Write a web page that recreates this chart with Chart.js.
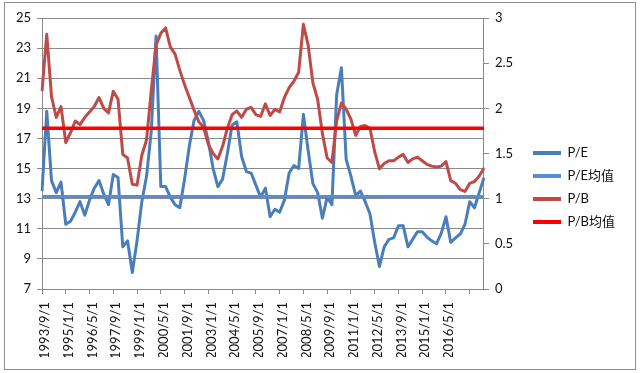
<!DOCTYPE html>
<html>
<head>
<meta charset="utf-8">
<script src="https://cdn.jsdelivr.net/npm/chart.js@4/dist/chart.umd.min.js"></script>
<style>
  html, body { margin: 0; padding: 0; background: #fff; }
  #frame { position: absolute; left: 4px; top: 2px; width: 630px; height: 366px; border: 1px solid #8c8c8c; }
  canvas { display: block; }
</style>
</head>
<body>
<div id="frame"><canvas id="chart" width="630" height="366"></canvas></div>
<script>
// tick labels shown on the x axis (one every 5 points)
const tickLabels = [
  '1993/9/1', '1995/1/1', '1996/5/1', '1997/9/1', '1999/1/1', '2000/5/1',
  '2001/9/1', '2003/1/1', '2004/5/1', '2005/9/1', '2007/1/1', '2008/5/1',
  '2009/9/1', '2011/1/1', '2012/5/1', '2013/9/1', '2015/1/1', '2016/5/1'
];
const labelEvery = 5;

// P/E (left axis)
const peValues = [
  13.5, 18.8, 14.2, 13.4, 14.1, 11.3, 11.5, 12.1, 12.8, 11.9,
  12.9, 13.7, 14.2, 13.3, 12.6, 14.6, 14.4, 9.8, 10.2, 8.1,
  10.2, 12.8, 14.5, 17.5, 23.8, 13.8, 13.8, 13.1, 12.6, 12.4,
  14.3, 16.5, 18.2, 18.8, 18.2, 16.8, 15.0, 13.8, 14.3, 16.0,
  17.9, 18.1, 15.8, 14.8, 14.7, 13.9, 13.1, 13.7, 11.8, 12.3,
  12.1, 12.9, 14.7, 15.2, 15.0, 18.6, 16.2, 14.0, 13.4, 11.7,
  13.1, 12.6, 19.9, 21.7, 15.6, 14.5, 13.2, 13.5, 12.8, 12.0,
  10.1, 8.5, 9.8, 10.3, 10.4, 11.2, 11.2, 9.8, 10.3, 10.8,
  10.8, 10.45, 10.2, 10.0, 10.7, 11.8, 10.1, 10.4, 10.65, 11.3,
  12.8, 12.4, 13.4, 14.4
];

// P/B (right axis)
const pbValues = [
  2.19, 2.82, 2.13, 1.90, 2.02, 1.62, 1.73, 1.86, 1.82, 1.90,
  1.96, 2.02, 2.12, 2.00, 1.95, 2.19, 2.10, 1.49, 1.45, 1.16,
  1.15, 1.48, 1.65, 2.20, 2.70, 2.83, 2.89, 2.68, 2.60, 2.42,
  2.26, 2.12, 1.98, 1.85, 1.79, 1.60, 1.50, 1.44, 1.58, 1.78,
  1.93, 1.97, 1.90, 1.99, 2.01, 1.93, 1.91, 2.05, 1.92, 1.99,
  1.96, 2.12, 2.23, 2.30, 2.40, 2.93, 2.70, 2.28, 2.10, 1.72,
  1.45, 1.40, 1.86, 2.06, 1.99, 1.88, 1.70, 1.80, 1.81, 1.78,
  1.52, 1.33, 1.39, 1.42, 1.42, 1.46, 1.49, 1.40, 1.44, 1.46,
  1.42, 1.38, 1.36, 1.35, 1.36, 1.41, 1.20, 1.17, 1.10, 1.08,
  1.17, 1.19, 1.25, 1.34
];

const peMean = 13.15;
const pbMean = 1.78;

// category labels: only every 5th point carries a date
const categories = peValues.map((v, i) =>
  i % labelEvery === 0 ? (tickLabels[i / labelEvery] || '') : '');

const GRID = '#8a8a8a';
const TEXT = '#111';
const FONT = { family: "Lato, 'Noto Sans CJK SC', sans-serif", size: 13 };

const datasets = [
  { label: 'P/E', data: peValues, yAxisID: 'y', borderColor: '#4a7ebb', borderWidth: 3, order: 4 },
  { label: 'P/E均值', data: peValues.map(() => peMean), yAxisID: 'y', borderColor: '#558ed5', borderWidth: 3, order: 3 },
  { label: 'P/B', data: pbValues, yAxisID: 'y1', borderColor: '#be4b48', borderWidth: 3, order: 2 },
  { label: 'P/B均值', data: pbValues.map(() => pbMean), yAxisID: 'y1', borderColor: '#ff0000', borderWidth: 3.5, order: 1 },
];
datasets.forEach((d) => {
  d.pointRadius = 0;
  d.tension = 0;
  d.fill = false;
  d.borderJoinStyle = 'round';
  d.backgroundColor = d.borderColor;
});

new Chart(document.getElementById('chart'), {
  type: 'line',
  data: { labels: categories, datasets },
  options: {
    responsive: false,
    animation: false,
    layout: { padding: { top: 15, right: 10, bottom: 12, left: 0 } },
    plugins: {
      tooltip: { enabled: false },
      legend: {
        position: 'right',
        align: 'center',
        labels: {
          boxWidth: 28,
          boxHeight: 4,
          padding: 10,
          font: FONT,
          color: TEXT,
          generateLabels: (chart) => chart.data.datasets.map((ds, i) => ({
            text: ds.label,
            fillStyle: ds.borderColor,
            strokeStyle: ds.borderColor,
            lineWidth: 0,
            hidden: false,
            datasetIndex: i,
            fontColor: TEXT,
          })),
        },
      },
    },
    scales: {
      x: {
        offset: false,
        grid: {
          drawOnChartArea: false,
          tickLength: 5,
          color: (ctx) => (ctx.index % labelEvery === 0 ? GRID : 'rgba(0,0,0,0)'),
        },
        border: { color: GRID },
        ticks: { autoSkip: false, maxRotation: 90, minRotation: 90, padding: 8, labelOffset: 3, font: FONT, color: TEXT },
        afterFit: (s) => { s.height = 68; },
      },
      y: {
        position: 'left',
        min: 7,
        max: 25,
        ticks: { stepSize: 2, padding: 6, font: FONT, color: TEXT },
        grid: { color: GRID, tickLength: 5 },
        border: { color: GRID },
        afterFit: (s) => { s.width = 37; },
      },
      y1: {
        position: 'right',
        min: 0,
        max: 3,
        ticks: { stepSize: 0.5, padding: 6, font: FONT, color: TEXT, callback: (v) => String(v) },
        grid: { drawOnChartArea: false, color: GRID, tickLength: 5 },
        border: { color: GRID },
        afterFit: (s) => { s.width = 39; },
      },
    },
  },
});
</script>
</body>
</html>
